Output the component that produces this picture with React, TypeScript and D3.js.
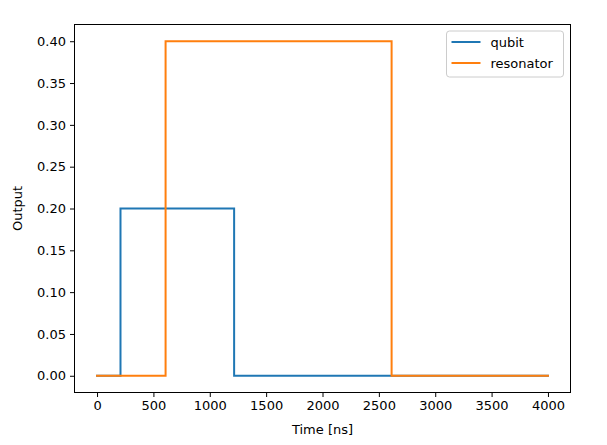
import React, { useRef, useEffect } from 'react';
import * as d3 from 'd3';

// pulse schedules (step after each time)
const qubitTimes = [0, 208, 1216, 4000];
const qubitValues = [0, 0.2, 0, 0];
const resonatorTimes = [0, 608, 2613, 4000];
const resonatorValues = [0, 0.4, 0, 0];

const xTicks = [0, 500, 1000, 1500, 2000, 2500, 3000, 3500, 4000];
const yTicks = [0, 0.05, 0.1, 0.15, 0.2, 0.25, 0.3, 0.35, 0.4];

const seriesNames = ['qubit', 'resonator'];
const seriesColors = ['#1f77b4', '#ff7f0e'];

const App: React.FC = () => {
    const svgRef = useRef<SVGSVGElement | null>(null);

    useEffect(() => {
        document.body.style.margin = '0';
        if (!svgRef.current) return;
        const svg = d3.select(svgRef.current);
        svg.selectAll('*').remove();

        const W = 607, H = 445;
        const margin = { top: 24.5, right: 36.5, bottom: 52.5, left: 74.5 };
        const width = W - margin.left - margin.right;
        const height = H - margin.top - margin.bottom;
        const font = '"DejaVu Sans", sans-serif';

        svg.attr('width', W).attr('height', H).style('background', '#fff');
        const chart = svg.append('g').attr('transform', `translate(${margin.left},${margin.top})`);

        const xScale = d3.scaleLinear().domain([-200, 4200]).range([0, width]);
        const yScale = d3.scaleLinear().domain([-0.02, 0.42]).range([height, 0]);

        const series = [
            qubitTimes.map((t, i) => [t, qubitValues[i]] as [number, number]),
            resonatorTimes.map((t, i) => [t, resonatorValues[i]] as [number, number]),
        ];

        const line = d3.line<[number, number]>()
            .x(d => xScale(d[0]))
            .y(d => yScale(d[1]))
            .curve(d3.curveStepAfter);

        series.forEach((s, i) => {
            chart.append('path').datum(s)
                .attr('d', line)
                .attr('fill', 'none')
                .attr('stroke', seriesColors[i])
                .attr('stroke-width', 2)
                .attr('stroke-linejoin', 'miter')
                .attr('stroke-linecap', 'square');
        });

        // Axes
        const xAxis = chart.append('g').attr('transform', `translate(0,${height})`)
            .call(d3.axisBottom(xScale).tickValues(xTicks).tickSize(4.5).tickPadding(4).tickFormat(d3.format('d')));
        const yAxis = chart.append('g')
            .call(d3.axisLeft(yScale).tickValues(yTicks).tickSize(4.5).tickPadding(4).tickFormat(d3.format('.2f')));
        [xAxis, yAxis].forEach(a => {
            a.select('.domain').remove();
            a.selectAll('line').attr('stroke', '#000').attr('stroke-width', 1);
            a.selectAll('text').attr('fill', '#000').style('font-family', font).style('font-size', '13px');
        });

        // Spines
        chart.append('rect').attr('x', 0).attr('y', 0).attr('width', width).attr('height', height)
            .attr('fill', 'none').attr('stroke', '#000').attr('stroke-width', 1);

        // Axis labels
        chart.append('text').attr('text-anchor', 'middle').attr('x', width / 2).attr('y', height + 41)
            .text('Time [ns]').style('font-family', font).style('font-size', '13px');
        chart.append('text').attr('text-anchor', 'middle').attr('transform', 'rotate(-90)')
            .attr('x', -height / 2).attr('y', -53)
            .text('Output').style('font-family', font).style('font-size', '13px');

        // Legend
        const legend = chart.append('g').attr('transform', `translate(${446.5 - margin.left},${31 - margin.top})`);
        legend.append('rect').attr('width', 117).attr('height', 46).attr('rx', 3)
            .attr('fill', '#fff').attr('fill-opacity', 0.8).attr('stroke', '#cccccc').attr('stroke-width', 1);
        seriesNames.forEach((name, i) => {
            const y = 11 + i * 21;
            legend.append('line').attr('x1', 5).attr('x2', 34).attr('y1', y).attr('y2', y)
                .attr('stroke', seriesColors[i]).attr('stroke-width', 2);
            legend.append('text').attr('x', 44).attr('y', y).attr('dy', '0.35em')
                .text(name).style('font-family', font).style('font-size', '13px');
        });
    }, []);

    return <svg ref={svgRef}></svg>;
};

export default App;
